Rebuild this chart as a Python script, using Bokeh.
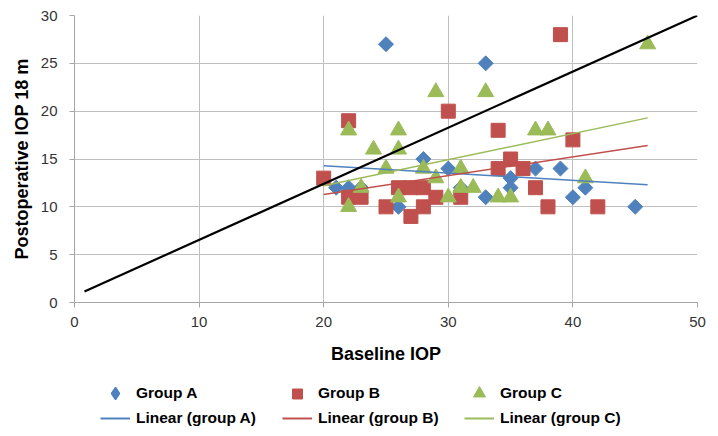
import math
from bokeh.plotting import figure
from bokeh.layouts import column
from bokeh.models import Legend, LegendItem, FixedTicker
from bokeh.embed import file_html
from bokeh.resources import INLINE

# ---- data ----
A_x = [21, 22, 23, 25, 26, 28, 30, 31, 33, 33, 35, 35, 37, 39, 40, 41, 45]
A_y = [12, 12, 12, 27, 10, 15, 14, 12, 25, 11, 13, 12, 14, 14, 11, 12, 10]

B_x = [20, 22, 22, 23, 25, 26, 27, 27, 28, 28, 29, 30, 31, 34, 34, 35, 36, 37, 38, 39, 40, 42]
B_y = [13, 19, 11, 11, 10, 12, 12, 9, 12, 10, 11, 20, 11, 18, 14, 15, 14, 12, 10, 28, 17, 10]

C_x = [22, 22, 23, 24, 25, 26, 26, 26, 28, 29, 29, 30, 31, 31, 32, 33, 34, 35, 37, 38, 41, 46]
C_y = [18, 10, 12, 16, 14, 18, 16, 11, 14, 22, 13, 11, 14, 12, 12, 22, 11, 11, 18, 18, 13, 27]

trend_x = [20, 46]
trend_A = [14.3, 12.3]
trend_B = [11.3, 16.4]
trend_C = [12.2, 19.3]

ref_x = [0.8, 50]
ref_y = [1.15, 30]

x_ticks = [0, 10, 20, 30, 40, 50]
y_ticks = [0, 5, 10, 15, 20, 25, 30]

BLUE = "#4F81BD"
RED = "#C0504D"
GREEN = "#9BBB59"
FONT = "Liberation Sans"

# ---- main chart (page y 0..372) ----
p = figure(width=716, height=372, x_range=(0, 50), y_range=(0, 30),
           output_backend="svg", toolbar_location=None,
           min_border_left=74, min_border_right=19, min_border_top=15,
           min_border_bottom=70)
p.outline_line_color = None

for ax in (p.xaxis[0], p.yaxis[0]):
    ax.axis_line_color = "#a6a6a6"
    ax.major_tick_line_color = "#a6a6a6"
    ax.major_tick_out = 5
    ax.major_tick_in = 0
    ax.minor_tick_line_color = None
    ax.major_label_text_font = FONT
    ax.major_label_text_font_size = "15px"
    ax.major_label_text_color = "#333333"
    ax.axis_label_text_font = FONT
    ax.axis_label_text_font_size = "18px"
    ax.axis_label_text_font_style = "bold"
    ax.axis_label_text_color = "black"

p.xaxis.ticker = FixedTicker(ticks=x_ticks)
p.yaxis.ticker = FixedTicker(ticks=y_ticks)
p.xaxis.axis_label = "Baseline IOP"
p.yaxis.axis_label = "Postoperative IOP 18 m"
p.xaxis.major_label_standoff = 9
p.yaxis.major_label_standoff = 12
p.xaxis.axis_label_standoff = 14
p.yaxis.axis_label_standoff = 6

p.xgrid.ticker = FixedTicker(ticks=x_ticks)
p.ygrid.ticker = FixedTicker(ticks=y_ticks)
p.grid.grid_line_color = "#bfbfbf"
p.grid.grid_line_width = 1

p.scatter(A_x, A_y, marker="square", angle=math.pi / 4, size=10.6,
          fill_color=BLUE, line_color=BLUE)
p.scatter(B_x, B_y, marker="square", size=14, fill_color=RED, line_color=RED)
p.scatter(C_x, C_y, marker="triangle", size=16, fill_color=GREEN, line_color=GREEN)

p.line(trend_x, trend_A, line_color=BLUE, line_width=1.5)
p.line(trend_x, trend_B, line_color=RED, line_width=1.5)
p.line(trend_x, trend_C, line_color=GREEN, line_width=1.5)

p.line(ref_x, ref_y, line_color="black", line_width=2.2)

# ---- legend strip (page y 372..434) ----
LEG_TOP = 372
LEG_H = 62
q = figure(width=716, height=LEG_H, x_range=(0, 1), y_range=(0, 1),
           output_backend="svg", toolbar_location=None,
           x_axis_location=None, y_axis_location=None,
           min_border_left=74, min_border_right=19,
           min_border_top=0, min_border_bottom=0)
q.outline_line_color = None
q.grid.visible = False

NAN = [float("nan")]
gA = q.scatter(NAN, NAN, marker="diamond", fill_color=BLUE, line_color=BLUE,
               line_width=1.5)
gB = q.scatter(NAN, NAN, marker="square", fill_color=RED, line_color=RED)
gC = q.scatter(NAN, NAN, marker="triangle", fill_color=GREEN, line_color=GREEN)
hA = q.line(NAN, NAN, line_color=BLUE, line_width=2)
hB = q.line(NAN, NAN, line_color=RED, line_width=2)
hC = q.line(NAN, NAN, line_color=GREEN, line_width=2)

FRAME_LEFT = 74


def add_leg(label, renderer, glyph_left, center_y, gh):
    h = max(gh, 20)
    vy = (LEG_TOP + LEG_H) - (center_y + h / 2)
    leg = Legend(items=[LegendItem(label=label, renderers=[renderer])],
                 location=(glyph_left - FRAME_LEFT, vy),
                 glyph_width=30, glyph_height=gh, label_height=20,
                 label_standoff=6, padding=0, margin=0, spacing=0,
                 border_line_color=None, background_fill_alpha=0,
                 label_text_font=FONT, label_text_font_size="15.5px",
                 label_text_font_style="bold", label_text_color="black")
    q.add_layout(leg)


add_leg("Group A", gA, 100, 393, 30)
add_leg("Group B", gB, 282, 393, 25)
add_leg("Group C", gC, 464, 393, 30)
add_leg("Linear (group A)", hA, 100, 418, 20)
add_leg("Linear (group B)", hB, 282, 418, 20)
add_leg("Linear (group C)", hC, 464, 418, 20)

layout = column(p, q, spacing=0)
open("out.html", "w").write(file_html(layout, INLINE))
